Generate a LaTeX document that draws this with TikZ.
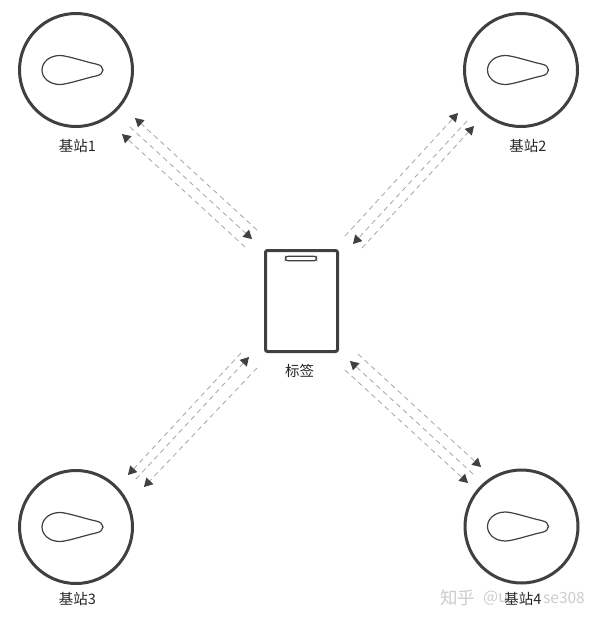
\documentclass[tikz,border=0pt]{standalone}
\usepackage{fontspec}
\setmainfont{Noto Sans CJK SC}
\usetikzlibrary{arrows.meta}
\definecolor{ink}{HTML}{404040}
\tikzset{
  x=1pt,y=-1pt,
  station/.style={circle,draw=ink,line width=3pt,minimum size=113pt,inner sep=0pt},
  caption/.style={font=\fontsize{14.5}{15}\selectfont,text=black!85,inner sep=0pt},
  wmark/.style={text=black!20,inner sep=0pt,anchor=west},
  wave/.style={draw=black!35,line width=0.8pt,dash pattern=on 5pt off 4pt,
    -{Triangle[length=8.5pt,width=9.5pt,color=ink]}},
  drop/.style={draw=ink,line width=1.2pt},
}
\newcommand{\teardrop}[2]{%
  \draw[drop,shift={(#1,#2)}] (-16,-14.5) .. controls (-27,-14.5) and (-34,-7.5) .. (-34,0)
    .. controls (-34,7.5) and (-27,14.5) .. (-16,14.5)
    .. controls (-9,14.5) and (10,8) .. (20,6)
    .. controls (24.5,5) and (27,3) .. (27,0)
    .. controls (27,-3) and (24.5,-5) .. (20,-6)
    .. controls (10,-8) and (-9,-14.5) .. (-16,-14.5) -- cycle;}
\begin{document}
\begin{tikzpicture}
\useasboundingbox (0,0) rectangle (600,622);
\fill[white] (0,0) rectangle (600,622);
% watermark
\node[wmark,font=\fontsize{17.5}{18}\selectfont] (markA) at (440,598) {知乎};
\node[wmark,font=\fontsize{16}{18}\selectfont] (markB) at (483,598) {@u};
\node[wmark,font=\fontsize{15.5}{18}\selectfont] (markC) at (543,598) {se308};
% stations
\node[station] (s1) at (76,70) {};
\node[station] (s2) at (521,70) {};
\node[station] (s3) at (76,527) {};
\node[station] (s4) at (521.5,526.5) {};
\teardrop{76}{70}\teardrop{521.5}{70}\teardrop{76}{527}\teardrop{521.5}{526.5}
\node[caption] (l1) at (77.5,145.5) {基站1};
\node[caption] (l2) at (528,145.5) {基站2};
\node[caption] (l3) at (77.5,599) {基站3};
\node[caption] (l4) at (523,599) {基站4};
% tag
\node[draw=ink,line width=3pt,rounded corners=2pt,minimum width=72pt,minimum height=101pt,inner sep=0pt] (tag) at (301.5,301) {};
\node[draw=ink,line width=1.2pt,rounded corners=2.5pt,minimum width=31pt,minimum height=4.5pt,inner sep=0pt] (slot) at (301,258.5) {};
\node[caption] (taglabel) at (299.5,370.5) {标签};
% connector ends
\coordinate (a1) at (135,118); \coordinate (a2) at (257,230);
\coordinate (b1) at (130,127); \coordinate (b2) at (252,239);
\coordinate (c1) at (122,134); \coordinate (c2) at (245,247);
\coordinate (d1) at (458,113); \coordinate (d2) at (345,236);
\coordinate (e1) at (467,121); \coordinate (e2) at (353,244);
\coordinate (f1) at (474,126); \coordinate (f2) at (362,248);
\coordinate (g1) at (241,353); \coordinate (g2) at (128,475);
\coordinate (h1) at (249,357); \coordinate (h2) at (136,479);
\coordinate (i1) at (257,368); \coordinate (i2) at (144,487);
\coordinate (j1) at (358,354); \coordinate (j2) at (481,467);
\coordinate (k1) at (350,361); \coordinate (k2) at (473,474);
\coordinate (m1) at (345,370); \coordinate (m2) at (468,483);
% connectors
\draw[wave] (a2) -- (a1);
\draw[wave] (b1) -- (b2);
\draw[wave] (c2) -- (c1);
\draw[wave] (d2) -- (d1);
\draw[wave] (e1) -- (e2);
\draw[wave] (f2) -- (f1);
\draw[wave] (g1) -- (g2);
\draw[wave] (h2) -- (h1);
\draw[wave] (i1) -- (i2);
\draw[wave] (j1) -- (j2);
\draw[wave] (k2) -- (k1);
\draw[wave] (m1) -- (m2);
\end{tikzpicture}
\end{document}
